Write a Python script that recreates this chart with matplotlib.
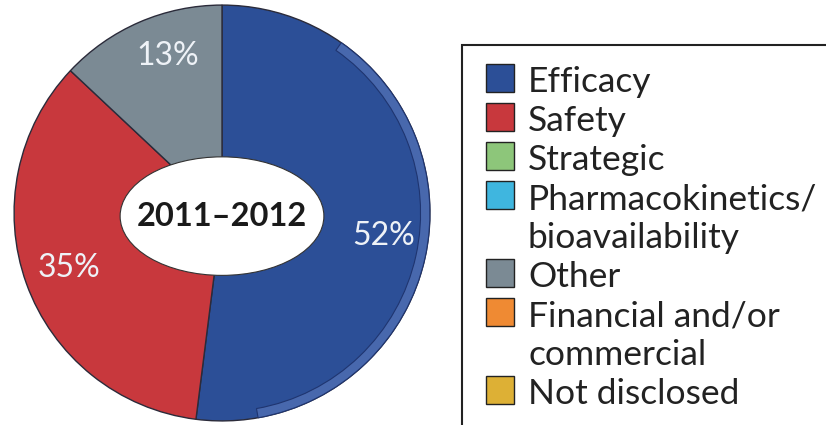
import matplotlib
matplotlib.use("Agg")
import matplotlib.pyplot as plt
from matplotlib.patches import Ellipse, Rectangle, Wedge

# Data
categories = ["Efficacy", "Safety", "Strategic", "Pharmacokinetics/\nbioavailability",
              "Other", "Financial and/or\ncommercial", "Not disclosed"]
shares = [52, 35, 0, 0, 13, 0, 0]
colors = ["#2c4f97", "#c8383d", "#8dc67a", "#3fb6df", "#7b8a94", "#ef8a33", "#ddb035"]
period = "2011\u20132012"

plt.rcParams['font.family'] = ['Lato', 'DejaVu Sans']

W, H = 826, 425
fig = plt.figure(figsize=(W / 100, H / 100), dpi=100)

# Pie
cx, cy, r = 222, 213, 210
ax = fig.add_axes([(cx - r) / W, (H - cy - r) / H, 2 * r / W, 2 * r / H])
vals = [v for v in shares if v > 0]
cols = [c for v, c in zip(shares, colors) if v > 0]
wedges, _, autotexts = ax.pie(vals, colors=cols, startangle=90, counterclock=False,
                              radius=1, autopct="%d%%", pctdistance=0.78,
                              wedgeprops=dict(edgecolor="#2b2b3a", linewidth=1.0))
for t in autotexts:
    t.set_color("#eef2f7")
    t.set_fontsize(23)
# nudge labels toward where the original sets them
autotexts[0].set_y(autotexts[0].get_position()[1] - 0.06)
autotexts[2].set_position((autotexts[2].get_position()[0] + 0.05,
                           autotexts[2].get_position()[1] + 0.04))

# bevelled rim on the right of the blue slice
ax.add_patch(Wedge((0, 0), 1.0, -80, 55, width=0.045, facecolor="#4868ad",
                   edgecolor="#1f3570", linewidth=0.8, zorder=3))

ax.add_patch(Ellipse((0, -0.015), 0.98, 0.57, facecolor="white", edgecolor="#333333",
                     linewidth=0.8, zorder=5))
ax.text(0, -0.015, period, ha="center", va="center", fontsize=23.5, fontweight="bold",
        color="#1a1a1a", zorder=6)
ax.set_xlim(-1.01, 1.01)
ax.set_ylim(-1.01, 1.01)
ax.set_aspect("equal")
ax.axis("off")

# Legend
lg = fig.add_axes([0, 0, 1, 1])
lg.set_xlim(0, W)
lg.set_ylim(H, 0)
lg.axis("off")
lg.add_patch(Rectangle((462, 45), 400, 420, facecolor="white", edgecolor="#222222",
                       linewidth=1.5))
line = 0
for name, col in zip(categories, colors):
    base = 92 + 39 * line
    lg.add_patch(Rectangle((486, base - 28), 28, 28, facecolor=col, edgecolor="#222222",
                           linewidth=1.0))
    for part in name.split("\n"):
        lg.text(528, 92 + 39 * line, part, ha="left", va="baseline", fontsize=25.5,
                color="#222222")
        line += 1

fig.savefig("out.png", dpi=100, facecolor="white")
